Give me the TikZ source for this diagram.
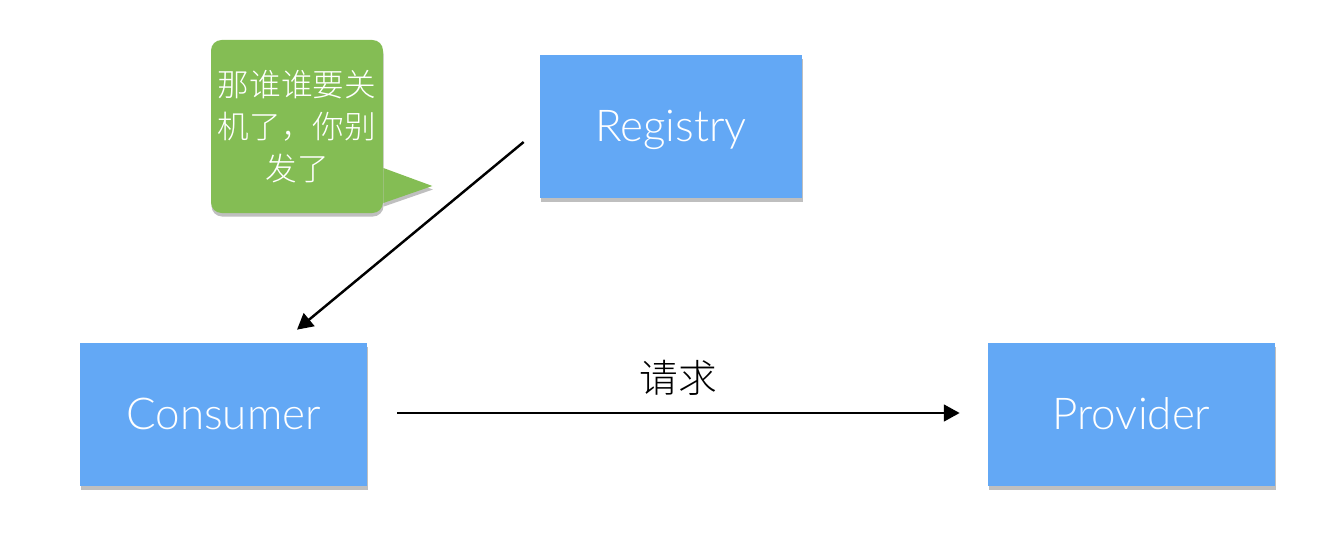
\documentclass[tikz,border=0pt]{standalone}
\usepackage{fontspec}
\setmainfont{Lato Light}
\newfontfamily\cjk{Noto Sans CJK SC Light}
\usetikzlibrary{arrows.meta,shadows}
\definecolor{regblue}{RGB}{99,168,245}
\definecolor{tipgreen}{RGB}{132,189,84}
\begin{document}
\begin{tikzpicture}[
    box/.style={rectangle, fill=regblue, text=white, minimum height=2.86cm, font=\fontsize{25}{30}\selectfont,
        text height=24pt, text depth=7pt, drop shadow={shadow xshift=0.3pt, shadow yshift=-2pt, opacity=0.25, fill=black}},
    bubble/.style={rectangle, fill=tipgreen, text=white, rounded corners=6pt, minimum width=3.44cm, minimum height=3.46cm,
        align=center, font=\cjk\fontsize{18}{24}\selectfont,
        drop shadow={shadow xshift=0.3pt, shadow yshift=-2pt, opacity=0.25, fill=black}},
    arrow/.style={-{Triangle[length=9pt, width=9.5pt]}, line width=1.4pt, black}
]
    \useasboundingbox (0,0) rectangle (26.68,11.16);

    % Boxes
    \node[box, minimum width=5.24cm] (registry) at (13.42,8.63) {Registry};
    \node[box, minimum width=5.74cm] (consumer) at (4.47,2.87) {Consumer};
    \node[box, minimum width=5.74cm] (provider) at (22.63,2.87) {Provider};

    % Speech bubble
    \node[bubble] (note) at (5.94,8.63) {那谁谁要关\\机了，你别\\发了};
    \fill[tipgreen, drop shadow={shadow xshift=0.3pt, shadow yshift=-2pt, opacity=0.25, fill=black}]
        ([yshift=-0.83cm]note.east) -- ([shift={(0.98cm,-1.19cm)}]note.east) -- ([yshift=-1.53cm]note.east) -- cycle;

    % Arrows
    \draw[arrow] ([shift={(-0.32cm,-0.31cm)}]registry.west) -- ([shift={(1.47cm,0.26cm)}]consumer.north);
    \draw[arrow] ([xshift=0.6cm,yshift=0.03cm]consumer.east) -- ([xshift=-0.56cm,yshift=0.03cm]provider.west)
        node[midway, above=6pt, font=\cjk\fontsize{22}{26}\selectfont] (req) {请求};
\end{tikzpicture}
\end{document}
